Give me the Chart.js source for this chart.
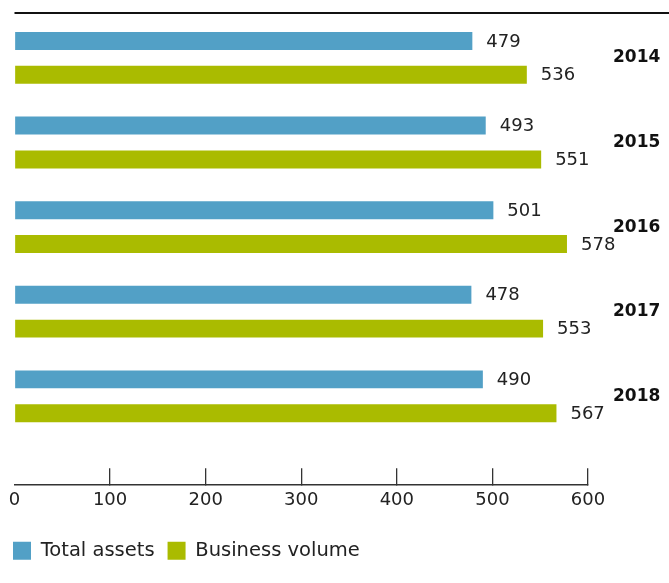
<!DOCTYPE html>
<html>
<head>
<meta charset="utf-8">
<script src="https://cdn.jsdelivr.net/npm/chart.js@4.4.1/dist/chart.umd.min.js"></script>
<style>
  body { margin: 0; background: #fff; }
  canvas { display: block; }
</style>
</head>
<body>
<canvas id="bilanChart" width="669" height="583"></canvas>
<script>
// ----------- Données -----------//
const years = [2014, 2015, 2016, 2017, 2018];
const totalAssets = [479, 493, 501, 478, 490];
const businessVolume = [536, 551, 578, 553, 567];
const xTicks = [0, 100, 200, 300, 400, 500, 600];

const blue = '#52a0c6';
const green = '#aabb00';
const textColor = '#222';
const fontFamily = '"DejaVu Sans", sans-serif';

// trait noir en haut du graphique
const topRule = {
    id: 'topRule',
    beforeDraw(chart) {
        const ctx = chart.ctx;
        ctx.save();
        ctx.strokeStyle = '#111';
        ctx.lineWidth = 2;
        ctx.beginPath();
        ctx.moveTo(chart.chartArea.left, 13);
        ctx.lineTo(chart.width, 13);
        ctx.stroke();
        ctx.restore();
    }
};

// valeurs à droite des barres
const valueLabels = {
    id: 'valueLabels',
    afterDatasetsDraw(chart) {
        const ctx = chart.ctx;
        ctx.save();
        ctx.font = '18px ' + fontFamily;
        ctx.fillStyle = textColor;
        ctx.textAlign = 'left';
        ctx.textBaseline = 'middle';
        chart.data.datasets.forEach((ds, di) => {
            chart.getDatasetMeta(di).data.forEach((bar, i) => {
                ctx.fillText(ds.data[i], bar.x + 14, bar.y + 1);
            });
        });
        ctx.restore();
    }
};

const ctx = document.getElementById('bilanChart').getContext('2d');
new Chart(ctx, {
    type: 'bar',
    data: {
        labels: years,
        datasets: [{
            label: 'Total assets',
            data: totalAssets,
            backgroundColor: blue,
            borderWidth: 0
        }, {
            label: 'Business volume',
            data: businessVolume,
            backgroundColor: green,
            borderWidth: 0
        }]
    },
    options: {
        indexAxis: 'y',
        responsive: false,
        animation: false,
        categoryPercentage: 0.8,
        barPercentage: 0.53,
        layout: {
            padding: { top: 15.6, left: 0, right: 8, bottom: 12.6 }
        },
        scales: {
            x: {
                type: 'linear',
                position: 'bottom',
                min: 0,
                max: 600,
                afterBuildTicks: scale => {
                    scale.ticks = xTicks.map(v => ({ value: v }));
                },
                afterFit: scale => {
                    scale.height = 43.6;
                    scale.paddingLeft = 14.5;
                    scale.paddingRight = 0;
                },
                border: { display: true, color: '#333', width: 1.5 },
                grid: {
                    drawOnChartArea: false,
                    drawTicks: true,
                    tickLength: -16,
                    lineWidth: 1.3,
                    color: c => (c.tick && c.tick.value === 0) ? 'rgba(0,0,0,0)' : '#333'
                },
                ticks: {
                    padding: 21,
                    maxRotation: 0,
                    color: textColor,
                    font: { family: fontFamily, size: 18 }
                }
            },
            y: {
                type: 'linear',
                position: 'right',
                reverse: true,
                offset: false,
                min: 2013.5,
                max: 2019.04,
                afterBuildTicks: scale => {
                    scale.ticks = years.map(v => ({ value: v }));
                },
                afterFit: scale => {
                    scale.width = 73;
                    scale.paddingTop = 0;
                    scale.paddingBottom = 0;
                },
                border: { display: false },
                grid: { display: false, drawTicks: false },
                ticks: {
                    crossAlign: 'near',
                    padding: 25,
                    color: '#111',
                    font: { family: fontFamily, size: 17, weight: 'bold' },
                    callback: v => String(v)
                }
            }
        },
        plugins: {
            legend: {
                display: true,
                position: 'bottom',
                align: 'start',
                labels: {
                    boxWidth: 18,
                    boxHeight: 18,
                    padding: 13,
                    color: textColor,
                    font: { family: fontFamily, size: 19.5 }
                }
            },
            tooltip: { enabled: false }
        }
    },
    plugins: [topRule, valueLabels]
});
</script>
</body>
</html>
